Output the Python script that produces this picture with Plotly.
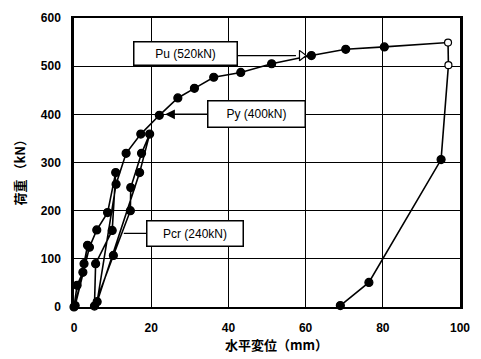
import plotly.graph_objects as go

# Load-displacement record (horizontal displacement mm, load kN)
disp = [0, 0.8, 2.3, 3.5, 2.6, 0.3,
        4.0, 5.9, 8.7, 10.8,
        9.9, 5.6, 5.3,
        10.2, 14.6, 14.7, 17.5, 19.6,
        17.0, 6.0,
        10.9, 13.5, 17.3, 22.1,
        26.9, 31.2, 36.2, 43.2, 51.2, 61.5, 70.4, 80.4,
        96.9, 97.0, 95.1, 76.4, 69.0]
load = [0, 45, 72, 128, 90, 3,
        124, 160, 196, 279,
        159, 90, 2,
        107, 200, 248, 319, 359,
        279, 11,
        255, 319, 359, 398,
        434, 454, 477, 487, 505, 522, 535, 540,
        549, 502, 306, 51, 3]
open_pts = [32, 33]  # hollow markers (ultimate state)

x_ticks = [0, 20, 40, 60, 80, 100]
y_ticks = [0, 100, 200, 300, 400, 500, 600]

n = len(disp)
fill = ["#ffffff" if i in open_pts else "#000000" for i in range(n)]
sizes = [7 if i in open_pts else 8 for i in range(n)]

fig = go.Figure()
fig.add_trace(go.Scatter(
    x=disp, y=load, mode="lines+markers",
    line=dict(color="#000000", width=1.6),
    marker=dict(size=sizes, color=fill, opacity=1,
                line=dict(color="#000000", width=1.2)),
    cliponaxis=False, showlegend=False, hoverinfo="skip"))

# Pu arrow (open head)
fig.add_trace(go.Scatter(
    x=[59.0], y=[522], mode="markers",
    marker=dict(symbol="triangle-right", size=9, color="#ffffff", opacity=1,
                line=dict(color="#000000", width=1.2)),
    showlegend=False, hoverinfo="skip"))

box_font = dict(family="Liberation Sans", size=12, color="black")
annos = [
    dict(x=28.8, y=526, text="Pu (520kN)", width=100, height=20),
    dict(x=47.3, y=400, text="Py (400kN)", width=94, height=23),
    dict(x=31.3, y=153, text="Pcr (240kN)", width=93, height=22),
]
for a in annos:
    fig.add_annotation(x=a["x"], y=a["y"], xref="x", yref="y", text=a["text"],
                       showarrow=False, bgcolor="white", bordercolor="black",
                       borderwidth=1.5, borderpad=1, width=a["width"], height=a["height"],
                       font=box_font)

# leader lines
fig.add_annotation(x=57.5, y=522, ax=42.1, ay=522, xref="x", yref="y", axref="x", ayref="y",
                   text="", showarrow=True, arrowhead=0, arrowwidth=1.3, arrowcolor="black")
fig.add_annotation(x=23.6, y=400, ax=35.0, ay=400, xref="x", yref="y", axref="x", ayref="y",
                   text="", showarrow=True, arrowhead=2, arrowsize=1.3, arrowwidth=1.5,
                   arrowcolor="black")
fig.add_annotation(x=12.9, y=153, ax=19.2, ay=153, xref="x", yref="y", axref="x", ayref="y",
                   text="", showarrow=True, arrowhead=0, arrowwidth=1.3, arrowcolor="black")

title_font = dict(family="Noto Sans CJK JP", size=13, color="black", weight="bold")
fig.add_annotation(x=-0.141, y=0.478, xref="paper", yref="paper", text="荷重 （kN）",
                   xanchor="center", yanchor="middle",
                   textangle=-90, showarrow=False, font=title_font)
fig.add_annotation(x=0.525, y=-0.131, xref="paper", yref="paper", text="水平変位（mm）",
                   xanchor="center", yanchor="middle",
                   showarrow=False, font=title_font)

tick_font = dict(family="Liberation Sans", size=12, color="black", weight="bold")
fig.update_xaxes(range=[0, 100], tickvals=x_ticks, ticktext=[str(v) for v in x_ticks],
                 showgrid=True, gridcolor="black", gridwidth=1, zeroline=False,
                 showline=True, linecolor="black", linewidth=2, mirror=True,
                 ticks="", tickfont=tick_font, ticklabelstandoff=9)
fig.update_yaxes(range=[0, 600], tickvals=y_ticks, ticktext=[str(v) for v in y_ticks],
                 showgrid=True, gridcolor="black", gridwidth=1, zeroline=False,
                 showline=True, linecolor="black", linewidth=2.5, mirror=True,
                 ticks="", tickfont=tick_font, ticklabelstandoff=8)
fig.update_layout(width=481, height=359, margin=dict(l=74, r=11, t=16, b=52),
                  paper_bgcolor="white", plot_bgcolor="white")
fig.write_html("out.html")
